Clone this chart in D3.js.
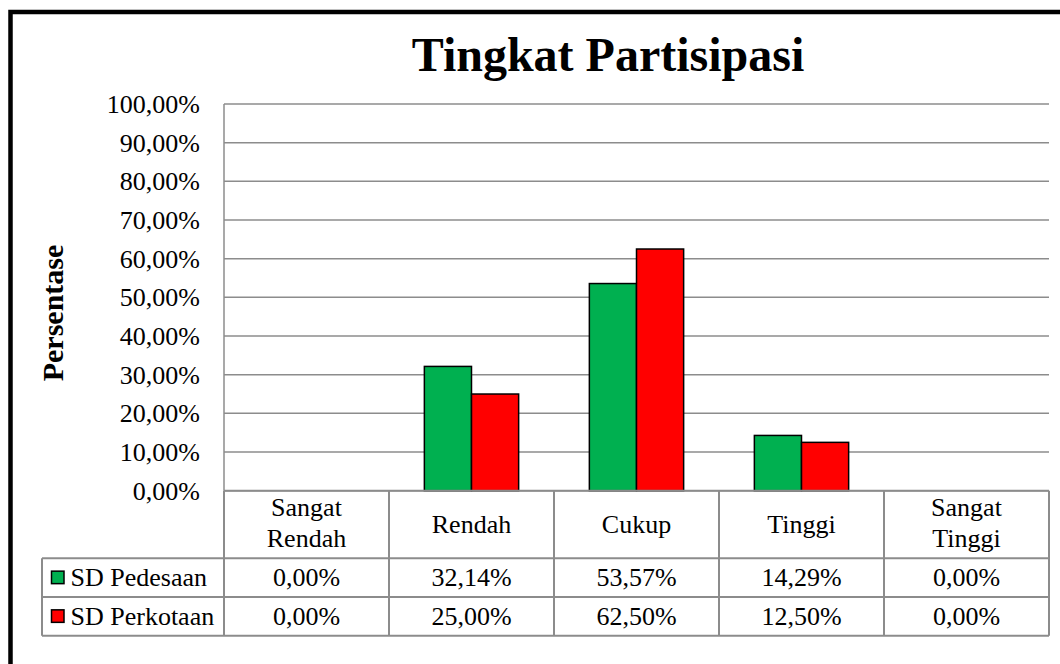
<!DOCTYPE html>
<html>
<head>
<meta charset="utf-8">
<script src="https://cdn.jsdelivr.net/npm/d3@7/dist/d3.min.js"></script>
<style>
  html, body { margin: 0; padding: 0; background: #fff; }
  svg { display: block; }
  text { font-family: "Liberation Serif", "Times New Roman", serif; fill: #000; }
</style>
</head>
<body>
<svg id="chart" width="1060" height="664"></svg>
<script>
const title = "Tingkat Partisipasi";
const yAxisTitle = "Persentase";
const categories = ["Sangat Rendah", "Rendah", "Cukup", "Tinggi", "Sangat Tinggi"];
const seriesNames = ["SD Pedesaan", "SD Perkotaan"];
const pedesaan = [0.00, 32.14, 53.57, 14.29, 0.00];
const perkotaan = [0.00, 25.00, 62.50, 12.50, 0.00];
const seriesColors = ["#00B050", "#FF0000"];
const yTicks = [0, 10, 20, 30, 40, 50, 60, 70, 80, 90, 100];

const seriesValues = [pedesaan, perkotaan];
const svg = d3.select("#chart");
const W = 1060, H = 664;

const plot = { left: 224, right: 1049, top: 104, bottom: 490.7 };
const headerH = 67.6, rowH = 38.7;
const tableLeft = 42;
const gridColor = "#8c8c8c";
const fontSize = 26;

const fmt = v => d3.format(".2f")(v).replace(".", ",") + "%";

// outer border (cut off at right and bottom, as in reference)
svg.append("rect")
  .attr("x", 10.5).attr("y", 12)
  .attr("width", W + 40).attr("height", H + 40)
  .attr("fill", "none").attr("stroke", "#000").attr("stroke-width", 4.5);

// title
svg.append("text")
  .attr("x", 608).attr("y", 71)
  .attr("text-anchor", "middle")
  .style("font-size", "48px").style("font-weight", "bold")
  .text(title);

const x = d3.scaleBand().domain(categories).range([plot.left, plot.right]).paddingInner(0).paddingOuter(0);
const y = d3.scaleLinear().domain([0, 100]).range([plot.bottom, plot.top]);
const barW = x.bandwidth() / 3.5;

// gridlines
svg.append("g").selectAll("line").data(yTicks).join("line")
  .attr("x1", plot.left).attr("x2", plot.right)
  .attr("y1", d => y(d)).attr("y2", d => y(d))
  .attr("stroke", gridColor).attr("stroke-width", 1.5);

// y axis line
svg.append("line")
  .attr("x1", plot.left).attr("x2", plot.left)
  .attr("y1", plot.top).attr("y2", plot.bottom)
  .attr("stroke", gridColor).attr("stroke-width", 1.5);

// y tick labels
svg.append("g").selectAll("text").data(yTicks).join("text")
  .attr("x", 200).attr("y", d => y(d))
  .attr("dy", "0.34em")
  .attr("text-anchor", "end")
  .style("font-size", fontSize + "px")
  .text(d => fmt(d));

// y axis title
svg.append("text")
  .attr("transform", `translate(63, 313) rotate(-90)`)
  .attr("text-anchor", "middle")
  .style("font-size", "30px").style("font-weight", "bold")
  .text(yAxisTitle);

// bars
seriesValues.forEach((vals, si) => {
  svg.append("g").selectAll("rect").data(categories).join("rect")
    .attr("x", (c) => x(c) + x.bandwidth() / 2 - barW + si * barW)
    .attr("y", (c, i) => y(vals[i]))
    .attr("width", barW)
    .attr("height", (c, i) => y(0) - y(vals[i]))
    .attr("fill", seriesColors[si])
    .attr("stroke", "#000").attr("stroke-width", 1.5)
    .attr("display", (c, i) => vals[i] > 0 ? null : "none");
});

// data table
const tTop = plot.bottom;
const tHeadBottom = tTop + headerH;
const tBottom = tHeadBottom + rowH * seriesNames.length;
const tg = svg.append("g");

// horizontal lines
tg.append("line").attr("x1", plot.left).attr("x2", plot.right).attr("y1", tTop).attr("y2", tTop)
  .attr("stroke", gridColor).attr("stroke-width", 2);
for (let r = 0; r <= seriesNames.length; r++) {
  const yy = tHeadBottom + r * rowH;
  tg.append("line").attr("x1", tableLeft).attr("x2", plot.right).attr("y1", yy).attr("y2", yy)
    .attr("stroke", gridColor).attr("stroke-width", 2);
}
// vertical lines
tg.append("line").attr("x1", tableLeft).attr("x2", tableLeft).attr("y1", tHeadBottom).attr("y2", tBottom)
  .attr("stroke", gridColor).attr("stroke-width", 2);
categories.forEach(c => {
  tg.append("line").attr("x1", x(c)).attr("x2", x(c)).attr("y1", tTop).attr("y2", tBottom)
    .attr("stroke", gridColor).attr("stroke-width", 2);
});
tg.append("line").attr("x1", plot.right).attr("x2", plot.right).attr("y1", tTop).attr("y2", tBottom)
  .attr("stroke", gridColor).attr("stroke-width", 2);

// header labels
categories.forEach(c => {
  const parts = c.split(" ");
  const cx = x(c) + x.bandwidth() / 2;
  const t = tg.append("text").attr("text-anchor", "middle").style("font-size", fontSize + "px");
  if (parts.length > 1) {
    t.append("tspan").attr("x", cx).attr("y", 516).text(parts[0]);
    t.append("tspan").attr("x", cx).attr("y", 546.5).text(parts.slice(1).join(" "));
  } else {
    t.attr("x", cx).attr("y", 533).text(c);
  }
});

// rows
seriesNames.forEach((name, si) => {
  const rowTop = tHeadBottom + si * rowH;
  const cy = rowTop + rowH / 2;
  tg.append("rect")
    .attr("x", 51.5).attr("y", cy - 6.5)
    .attr("width", 12.5).attr("height", 12.5)
    .attr("fill", seriesColors[si]).attr("stroke", "#000").attr("stroke-width", 1.5);
  tg.append("text").attr("x", 70.5).attr("y", cy + 8.7)
    .style("font-size", fontSize + "px").text(name);
  categories.forEach((c, i) => {
    tg.append("text")
      .attr("x", x(c) + x.bandwidth() / 2).attr("y", cy + 8.7)
      .attr("text-anchor", "middle")
      .style("font-size", fontSize + "px")
      .text(fmt(seriesValues[si][i]));
  });
});
</script>
</body>
</html>
